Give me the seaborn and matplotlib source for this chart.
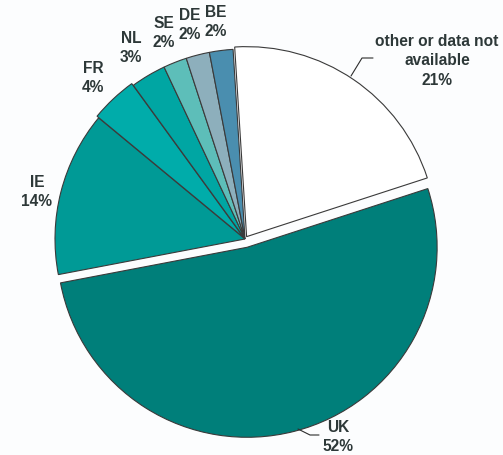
import matplotlib
matplotlib.use("Agg")
import matplotlib.pyplot as plt
import seaborn as sns

sns.set_style("white")
plt.rcParams['font.family'] = ['Liberation Sans', 'DejaVu Sans']

categories = ["other or data not\navailable", "UK", "IE", "FR", "NL", "SE", "DE", "BE"]
shares = [21, 52, 14, 4, 3, 2, 2, 2]
colors = ["#FFFFFF", "#007F7A", "#009A96", "#00ACAA", "#00A6A3", "#5DBEB9", "#8DAFBC", "#4A8EAF"]
explode = [0.015, 0.045, 0.0, 0.012, 0.0, 0.0, 0.0, 0.0]

W, H, DPI = 503, 456, 100
cx, cy, R = 245, 240, 190

def P(px, py):
    return ((px - cx) / R, (cy - py) / R)

fig = plt.figure(figsize=(W / DPI, H / DPI), dpi=DPI, facecolor="#FCFDFE")
ax = fig.add_axes([0, 0, 1, 1])
ax.set_facecolor("#FCFDFE")
ax.pie(shares, colors=colors, explode=explode, startangle=93.6, counterclock=False,
       radius=1.0, wedgeprops=dict(edgecolor="#3A3A3A", linewidth=0.8))
ax.set_xlim((0 - cx) / R, (W - cx) / R)
ax.set_ylim((cy - H) / R, cy / R)
ax.set_aspect("equal")
ax.axis("off")

label_pos = [(437, 61), (338, 437), (37, 192), (93, 78), (131, 48), (164, 33), (190, 25), (216, 22)]
tc = "#2D3838"
for name, v, (px, py) in zip(categories, shares, label_pos):
    x, y = P(px, py)
    ax.text(x, y, f"{name}\n{v}%", ha="center", va="center", fontsize=11.2,
            fontweight="bold", color=tc, linespacing=1.4)

# leader lines
for pts in ([(351, 77), (362, 59), (373, 59)], [(298, 430), (310, 436), (319, 436)]):
    xs, ys = zip(*[P(a, b) for a, b in pts])
    ax.plot(xs, ys, color="#2D2D2D", lw=0.8)

fig.savefig("out.png", dpi=DPI, facecolor=fig.get_facecolor())
